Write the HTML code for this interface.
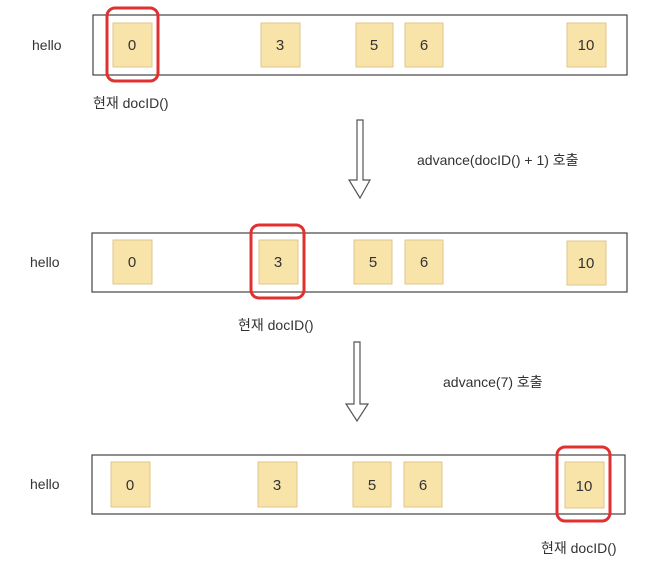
<!DOCTYPE html>
<html><head><meta charset="utf-8"><style>
html,body{margin:0;padding:0;background:#fff;}
svg{display:block;}
text{font-family:"Liberation Sans","Noto Sans CJK KR",sans-serif;fill:#333;}
.b{fill:#f8e3a9;stroke:#e0c68a;stroke-width:1;}
.o{fill:none;stroke:#444;stroke-width:1.2;}
.r{fill:none;stroke:#e03030;stroke-width:3;}
.n{font-size:15px;text-anchor:middle;}
.l{font-size:14px;}
.a{fill:#fff;stroke:#555;stroke-width:1.2;}
</style></head><body>
<svg width="650" height="564" viewBox="0 0 650 564" xmlns="http://www.w3.org/2000/svg">
<!-- Row 1 -->
<text class="l" x="32" y="50">hello</text>
<rect class="o" x="93" y="15" width="534" height="60"/>
<rect class="b" x="113" y="23" width="39" height="44"/><text class="n" x="132" y="50">0</text>
<rect class="b" x="261" y="23" width="39" height="44"/><text class="n" x="280" y="50">3</text>
<rect class="b" x="356" y="23" width="37" height="44"/><text class="n" x="374" y="50">5</text>
<rect class="b" x="405" y="23" width="38" height="44"/><text class="n" x="424" y="50">6</text>
<rect class="b" x="567" y="23" width="39" height="44"/><text class="n" x="586" y="50">10</text>
<rect class="r" x="107" y="8" width="51" height="73" rx="8"/>
<text class="l" x="93" y="108">현재 docID()</text>
<!-- Arrow 1 -->
<path class="a" d="M357,120 H363 V180 H370 L360,198 L349,180 H357 Z"/>
<text class="l" x="417" y="165">advance(docID() + 1) 호출</text>
<!-- Row 2 -->
<text class="l" x="30" y="267">hello</text>
<rect class="o" x="92" y="233" width="535" height="59"/>
<rect class="b" x="113" y="240" width="39" height="44"/><text class="n" x="132" y="267">0</text>
<rect class="b" x="259" y="240" width="39" height="44"/><text class="n" x="278" y="267">3</text>
<rect class="b" x="354" y="240" width="38" height="44"/><text class="n" x="373" y="267">5</text>
<rect class="b" x="405" y="240" width="38" height="44"/><text class="n" x="424" y="267">6</text>
<rect class="b" x="567" y="241" width="39" height="44"/><text class="n" x="586" y="268">10</text>
<rect class="r" x="251" y="225" width="53" height="73" rx="8"/>
<text class="l" x="238" y="330">현재 docID()</text>
<!-- Arrow 2 -->
<path class="a" d="M354,342 H360 V404 H368 L357,421 L346,404 H354 Z"/>
<text class="l" x="443" y="387">advance(7) 호출</text>
<!-- Row 3 -->
<text class="l" x="30" y="489">hello</text>
<rect class="o" x="92" y="455" width="533" height="59"/>
<rect class="b" x="111" y="462" width="39" height="45"/><text class="n" x="130" y="490">0</text>
<rect class="b" x="258" y="462" width="39" height="45"/><text class="n" x="277" y="490">3</text>
<rect class="b" x="353" y="462" width="38" height="45"/><text class="n" x="372" y="490">5</text>
<rect class="b" x="404" y="462" width="38" height="45"/><text class="n" x="423" y="490">6</text>
<rect class="b" x="565" y="462" width="39" height="46"/><text class="n" x="584" y="491">10</text>
<rect class="r" x="557" y="447" width="53" height="74" rx="8"/>
<text class="l" x="541" y="553">현재 docID()</text>
</svg>
</body></html>
